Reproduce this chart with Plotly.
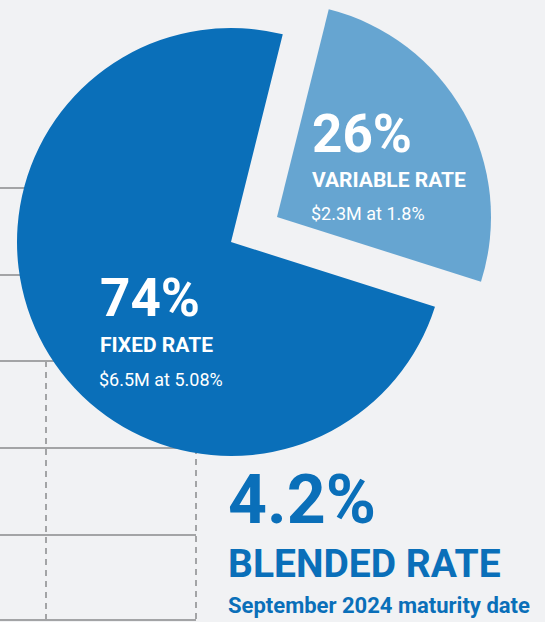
import plotly.graph_objects as go

# Debt mix data
labels = ["VARIABLE RATE", "FIXED RATE"]
shares = [26, 74]
amounts = ["$2.3M", "$6.5M"]
rates = ["1.8%", "5.08%"]
blended_rate = "4.2%"
blended_label = "BLENDED RATE"
maturity_note = "September 2024 maturity date"

W, H = 545, 622
BG = "#F1F2F4"
DARK = "#0A6FB9"
LIGHT = "#66A5D1"
GRID = "#A3A4A6"
FONT = "Roboto, sans-serif"
CLEAR = "rgba(0,0,0,0)"


def dom(cx, cy, r):
    '''pixel centre + radius -> paper domain'''
    return dict(x=[(cx - r) / W, (cx + r) / W], y=[1 - (cy + r) / H, 1 - (cy - r) / H])


fig = go.Figure()

# the fixed slice, centred; the variable slice drawn as its own trace so it can sit "pulled out"
fig.add_trace(go.Pie(values=shares, labels=labels, sort=False, direction="clockwise", rotation=14,
                     marker=dict(colors=[CLEAR, DARK], line=dict(width=0)),
                     textinfo="none", hoverinfo="label+percent", domain=dom(231, 242, 214)))
fig.add_trace(go.Pie(values=shares, labels=labels, sort=False, direction="clockwise", rotation=14,
                     marker=dict(colors=[LIGHT, CLEAR], line=dict(width=0)),
                     textinfo="none", hoverinfo="label+percent", domain=dom(277, 217, 214)))

# background table lines on the left
shapes = []
for y, x1 in [(188, 200), (275, 200), (361, 200), (448, 200), (535, 196), (620, 196)]:
    shapes.append(dict(type="line", xref="paper", yref="paper", x0=0, x1=x1 / W, y0=1 - y / H, y1=1 - y / H,
                       line=dict(color=GRID, width=2), layer="below"))
for x, y0 in [(46, 361), (196, 448)]:
    shapes.append(dict(type="line", xref="paper", yref="paper", x0=x / W, x1=x / W, y0=1 - y0 / H, y1=1 - 620 / H,
                       line=dict(color=GRID, width=2, dash="6px,5px"), layer="below"))


def note(text, x, y, size, color="white", bold=True):
    if bold:
        text = "<b>" + text + "</b>"
    return dict(text=text, x=x / W, y=1 - y / H, xref="paper", yref="paper", xanchor="left", yanchor="middle",
                showarrow=False, font=dict(family=FONT, size=size, color=color))


annotations = [
    note(f"{shares[1]}%", 98, 298, 53),
    note(labels[1], 98, 345, 21),
    note(f"{amounts[1]} at {rates[1]}", 97, 379, 18, bold=False),
    note(f"{shares[0]}%", 310, 134, 53),
    note(labels[0], 310, 180, 21),
    note(f"{amounts[0]} at {rates[0]}", 309, 213, 18, bold=False),
    note(blended_rate, 226, 500, 68, color=DARK),
    note(blended_label, 226, 564, 39, color=DARK),
    note(maturity_note, 226, 605, 22, color=DARK),
]

fig.update_layout(width=W, height=H, margin=dict(l=0, r=0, t=0, b=0), showlegend=False,
                  paper_bgcolor=BG, plot_bgcolor=BG, shapes=shapes, annotations=annotations)

# drop the page's default 8px body margin so the chart sits at the window corner
fig.write_html("out.html", config={"displayModeBar": False},
               post_script="document.body.style.margin='0';")
